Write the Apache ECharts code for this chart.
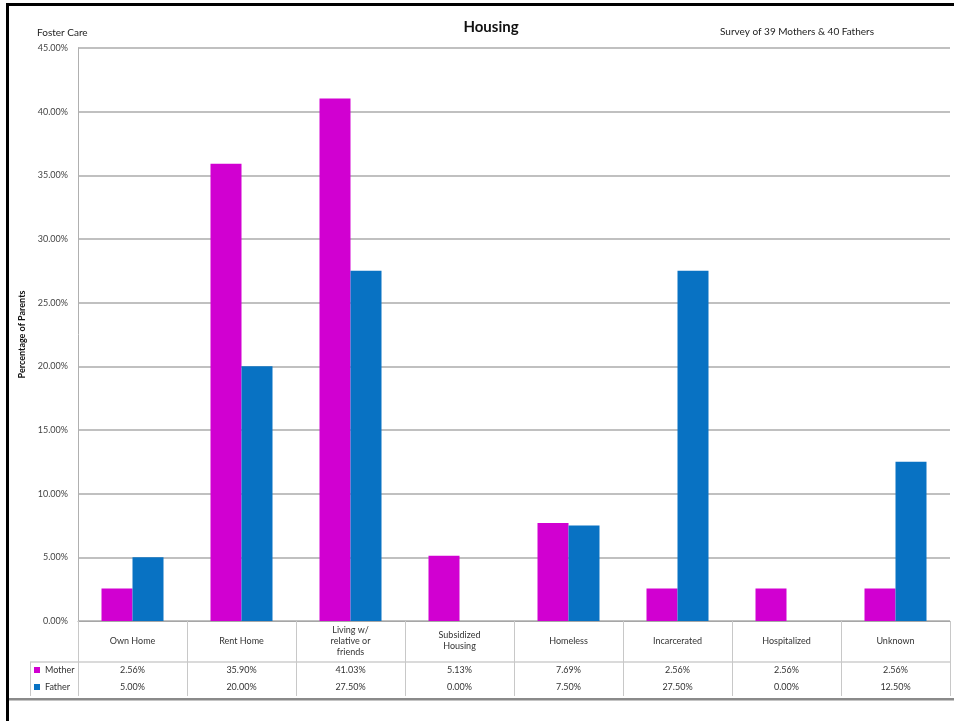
<!DOCTYPE html>
<html>
<head>
<meta charset="utf-8">
<script src="https://cdn.jsdelivr.net/npm/echarts@6/dist/echarts.min.js"></script>
<style>
html,body{margin:0;padding:0;background:#fff;}
#chart{width:954px;height:721px;}
</style>
</head>
<body>
<div id="chart"></div>
<script>
// ---- data ----
var categories = ['Own Home', 'Rent Home', 'Living w/\nrelative or\nfriends', 'Subsidized\nHousing', 'Homeless', 'Incarcerated', 'Hospitalized', 'Unknown'];
var motherValues = [2.56, 35.90, 41.03, 5.13, 7.69, 2.56, 2.56, 2.56];
var fatherValues = [5.00, 20.00, 27.50, 0.00, 7.50, 27.50, 0.00, 12.50];
var seriesNames = ['Mother', 'Father'];
var yTicks = {min: 0, max: 45, interval: 5};
var titleText = 'Housing';
var leftNote = 'Foster Care';
var rightNote = 'Survey of 39 Mothers & 40 Fathers';
var yAxisName = 'Percentage of Parents';

var FONT = 'Lato, "Liberation Sans", sans-serif';
var MAGENTA = '#d100d1';
var BLUE = '#0872c3';
var GRID = {left: 78, top: 48, right: 4, bottom: 100};
var pct = function (v) { return Number(v).toFixed(2) + '%'; };

var chart = echarts.init(document.getElementById('chart'), null, {renderer: 'canvas'});

function valueAxis(values, offset) {
  return {
    type: 'category',
    data: categories,
    position: 'bottom',
    offset: offset,
    axisLine: {show: false},
    axisTick: {show: false},
    axisLabel: {
      interval: 0, margin: 0, verticalAlign: 'middle',
      fontFamily: FONT, fontSize: 9, color: '#333',
      formatter: function (v, i) { return pct(values[i]); }
    }
  };
}

var option = {
  animation: false,
  backgroundColor: '#fff',
  title: [
    {text: titleText, left: 486, top: 15, textAlign: 'center',
     textStyle: {fontFamily: FONT, fontSize: 15, fontWeight: 'bold', color: '#111'}},
    {text: leftNote, left: 32, top: 23,
     textStyle: {fontFamily: FONT, fontSize: 10, fontWeight: 'normal', color: '#222'}},
    {text: rightNote, left: 792, top: 22, textAlign: 'center',
     textStyle: {fontFamily: FONT, fontSize: 10, fontWeight: 'normal', color: '#222'}}
  ],
  legend: {
    orient: 'vertical', left: 34, top: 665, padding: 0,
    itemWidth: 6, itemHeight: 6, itemGap: 7,
    icon: 'rect',
    textStyle: {fontFamily: FONT, fontSize: 9, color: '#333', lineHeight: 10},
    data: seriesNames
  },
  grid: GRID,
  xAxis: [
    {
      type: 'category',
      data: categories,
      position: 'bottom',
      axisLine: {show: true, lineStyle: {color: '#a6a6a6', width: 1}},
      axisTick: {show: true, alignWithLabel: false, inside: false, length: 75,
                 lineStyle: {color: '#c8c8c8', width: 1}},
      axisLabel: {interval: 0, margin: 20, verticalAlign: 'middle', lineHeight: 11,
                  fontFamily: FONT, fontSize: 9, color: '#333'}
    },
    valueAxis(motherValues, 49),
    valueAxis(fatherValues, 66)
  ],
  yAxis: {
    type: 'value',
    min: yTicks.min, max: yTicks.max, interval: yTicks.interval,
    name: yAxisName, nameLocation: 'middle', nameRotate: 90, nameGap: 44,
    nameTextStyle: {fontFamily: FONT, fontSize: 9, fontWeight: 'bold', color: '#111'},
    axisLine: {show: true, lineStyle: {color: '#b0b0b0', width: 1}},
    axisTick: {show: false},
    axisLabel: {formatter: pct, margin: 10, fontFamily: FONT, fontSize: 9, color: '#444'},
    splitLine: {show: true, lineStyle: {color: '#ababab', width: 1.5}}
  },
  series: [
    {name: seriesNames[0], type: 'bar', data: motherValues, barWidth: 31, barGap: '0%',
     itemStyle: {color: MAGENTA, borderWidth: 0}},
    {name: seriesNames[1], type: 'bar', data: fatherValues, barWidth: 31,
     itemStyle: {color: BLUE, borderWidth: 0}}
  ],
  graphic: [
    // frame
    {type: 'rect', shape: {x: 6, y: 3, width: 3, height: 718}, style: {fill: '#000'}},
    {type: 'rect', shape: {x: 6, y: 3, width: 948, height: 3}, style: {fill: '#000'}},
    {type: 'rect', shape: {x: 9, y: 698, width: 945, height: 2.5}, style: {fill: '#8a8a8a'}},
    // data table lines
    {type: 'line', shape: {x1: 30, y1: 662, x2: 950, y2: 662}, style: {stroke: '#b5b5b5', lineWidth: 1}},
    {type: 'line', shape: {x1: 30.5, y1: 662, x2: 30.5, y2: 696}, style: {stroke: '#c8c8c8', lineWidth: 1}}
  ]
};
chart.setOption(option);
</script>
</body>
</html>
